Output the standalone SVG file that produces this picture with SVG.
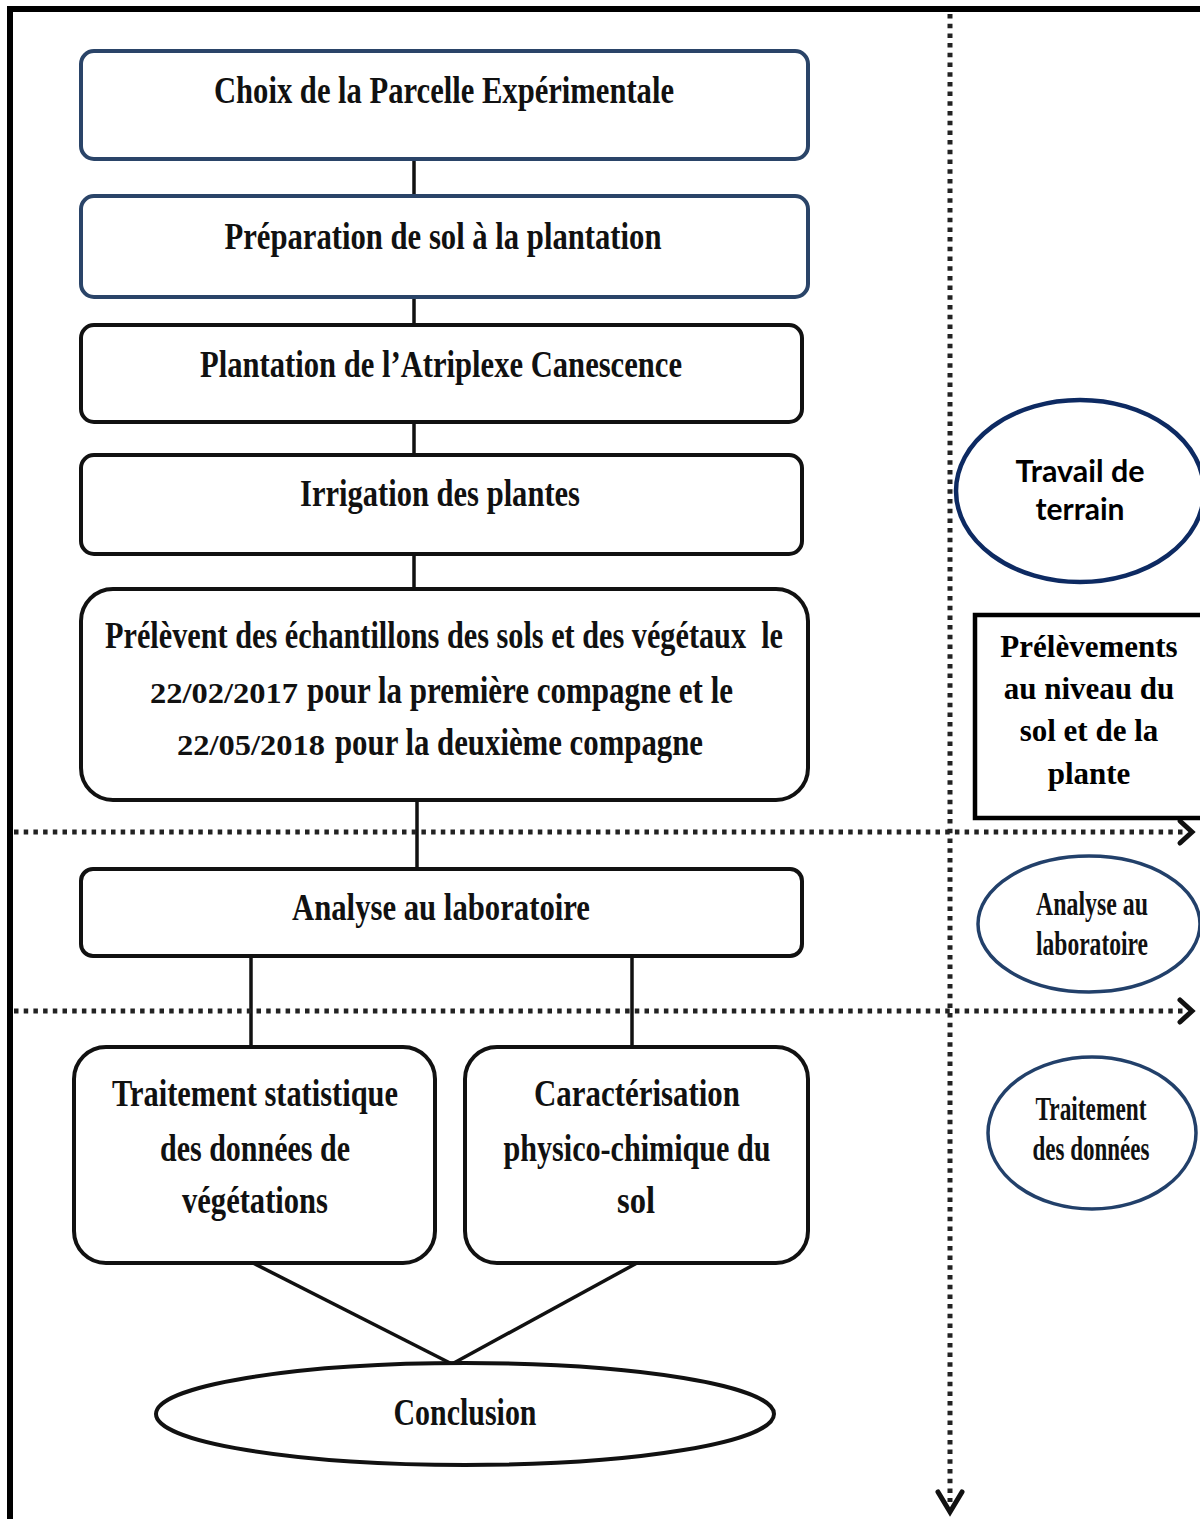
<svg xmlns="http://www.w3.org/2000/svg" width="1200" height="1519" viewBox="0 0 1200 1519">
<defs>
<style>
.t{font-family:"Liberation Serif","Times New Roman",serif;font-weight:bold;fill:#111;}
.c{font-size:37px;}
.d{font-size:30px;}
.box{fill:#fff;stroke:#111;stroke-width:4;}
.nbox{fill:#fff;stroke:#2a4468;stroke-width:4;}
.ell{fill:#fff;stroke:#22406a;stroke-width:3.5;}
.con{stroke:#111;stroke-width:3.5;fill:none;}
.dot{stroke:#222;stroke-width:5;fill:none;stroke-dasharray:4.5 5.2;}
.chev{stroke:#111;stroke-width:5;fill:none;stroke-linecap:round;stroke-linejoin:miter;}
.rt{font-family:"Liberation Serif","Times New Roman",serif;font-weight:bold;font-size:31px;fill:#000;}
.ct{font-family:Lato,"Open Sans",sans-serif;font-weight:bold;font-size:30px;fill:#000;}
</style>
</defs>
<rect width="1200" height="1519" fill="#fff"/>
<g id="frame">
<line x1="7" y1="9" x2="1200" y2="9" stroke="#000" stroke-width="6"/>
<line x1="10" y1="6" x2="10" y2="1519" stroke="#000" stroke-width="6"/>
</g>
<g id="connectors">
<line class="con" x1="414" y1="158" x2="414" y2="197"/>
<line class="con" x1="414" y1="297" x2="414" y2="326"/>
<line class="con" x1="414" y1="422" x2="414" y2="455"/>
<line class="con" x1="414" y1="554" x2="414" y2="589"/>
<line class="con" x1="417" y1="800" x2="417" y2="869"/>
<line class="con" x1="251" y1="956" x2="251" y2="1047"/>
<line class="con" x1="632" y1="956" x2="632" y2="1047"/>
<line class="con" x1="253" y1="1263" x2="452" y2="1364" stroke-width="5"/>
<line class="con" x1="637" y1="1263" x2="452" y2="1364" stroke-width="5"/>
<line class="dot" x1="14" y1="832" x2="1186" y2="832"/>
<polyline class="chev" points="1180,821 1192,832 1180,843"/>
<line class="dot" x1="14" y1="1011" x2="1186" y2="1011"/>
<polyline class="chev" points="1180,1000 1192,1011 1180,1022"/>
<line class="dot" x1="950" y1="14" x2="950" y2="1502" stroke-dasharray="5 5.6"/>
<polyline class="chev" points="938,1492 950,1512 962,1492"/>
</g>
<g id="n1">
<rect class="nbox" x="81" y="51" width="727" height="108" rx="13"/>
<text class="t c" x="444" y="103" text-anchor="middle" textLength="460" lengthAdjust="spacingAndGlyphs">Choix de la Parcelle Expérimentale</text>
</g>
<g id="n2">
<rect class="nbox" x="81" y="196" width="727" height="101" rx="13"/>
<text class="t c" x="443" y="249" text-anchor="middle" textLength="437" lengthAdjust="spacingAndGlyphs">Préparation de sol à la plantation</text>
</g>
<g id="n3">
<rect class="box" x="81" y="325" width="721" height="97" rx="13"/>
<text class="t c" x="441" y="377" text-anchor="middle" textLength="482" lengthAdjust="spacingAndGlyphs">Plantation de l’Atriplexe Canescence</text>
</g>
<g id="n4">
<rect class="box" x="81" y="455" width="721" height="99" rx="13"/>
<text class="t c" x="440" y="506" text-anchor="middle" textLength="280" lengthAdjust="spacingAndGlyphs">Irrigation des plantes</text>
</g>
<g id="n5">
<rect class="box" x="81" y="589" width="727" height="211" rx="32"/>
<text class="t c" x="105" y="648" xml:space="preserve" style="white-space:pre" textLength="678" lengthAdjust="spacingAndGlyphs">Prélèvent des échantillons des sols et des végétaux  le</text>
<text class="t" y="703"><tspan class="d" x="150" textLength="148" lengthAdjust="spacingAndGlyphs">22/02/2017</tspan><tspan class="c" x="307" textLength="426" lengthAdjust="spacingAndGlyphs">pour la première compagne et le</tspan></text>
<text class="t" y="755"><tspan class="d" x="177" textLength="148" lengthAdjust="spacingAndGlyphs">22/05/2018</tspan><tspan class="c" x="335" textLength="368" lengthAdjust="spacingAndGlyphs">pour la deuxième compagne</tspan></text>
</g>
<g id="n6">
<rect class="box" x="81" y="869" width="721" height="87" rx="12"/>
<text class="t c" x="441" y="920" text-anchor="middle" textLength="298" lengthAdjust="spacingAndGlyphs">Analyse au laboratoire</text>
</g>
<g id="n7">
<rect class="box" x="74" y="1047" width="361" height="216" rx="32"/>
<text class="t c" x="255" y="1106" text-anchor="middle" textLength="286" lengthAdjust="spacingAndGlyphs">Traitement statistique</text>
<text class="t c" x="255" y="1161" text-anchor="middle" textLength="190" lengthAdjust="spacingAndGlyphs">des données de</text>
<text class="t c" x="255" y="1213" text-anchor="middle" textLength="146" lengthAdjust="spacingAndGlyphs">végétations</text>
</g>
<g id="n8">
<rect class="box" x="465" y="1047" width="343" height="216" rx="32"/>
<text class="t c" x="637" y="1106" text-anchor="middle" textLength="206" lengthAdjust="spacingAndGlyphs">Caractérisation</text>
<text class="t c" x="637" y="1161" text-anchor="middle" textLength="267" lengthAdjust="spacingAndGlyphs">physico-chimique du</text>
<text class="t c" x="636" y="1213" text-anchor="middle" textLength="38" lengthAdjust="spacingAndGlyphs">sol</text>
</g>
<g id="n9">
<ellipse cx="465" cy="1414" rx="309" ry="51" fill="#fff" stroke="#111" stroke-width="4"/>
<text class="t c" x="465" y="1425" text-anchor="middle" textLength="143" lengthAdjust="spacingAndGlyphs">Conclusion</text>
</g>
<g id="r1">
<ellipse cx="1080" cy="491" rx="124" ry="91" fill="#fff" stroke="#0d2a62" stroke-width="4.5"/>
<text class="ct" x="1080" y="482" text-anchor="middle" textLength="129" lengthAdjust="spacingAndGlyphs">Travail de</text>
<text class="ct" x="1080" y="520" text-anchor="middle" textLength="89" lengthAdjust="spacingAndGlyphs">terrain</text>
</g>
<g id="r2">
<rect x="975" y="615" width="240" height="203" fill="#fff" stroke="#000" stroke-width="4.5"/>
<text class="rt" x="1089" y="657" text-anchor="middle">Prélèvements</text>
<text class="rt" x="1089" y="699" text-anchor="middle">au niveau du</text>
<text class="rt" x="1089" y="741" text-anchor="middle">sol et de la</text>
<text class="rt" x="1089" y="784" text-anchor="middle">plante</text>
</g>
<g id="r3">
<ellipse class="ell" cx="1089" cy="924" rx="111" ry="68"/>
<text class="t" x="1092" y="915" text-anchor="middle" font-size="33" textLength="112" lengthAdjust="spacingAndGlyphs">Analyse au</text>
<text class="t" x="1092" y="955" text-anchor="middle" font-size="33" textLength="112" lengthAdjust="spacingAndGlyphs">laboratoire</text>
</g>
<g id="r4">
<ellipse class="ell" cx="1092" cy="1133" rx="104" ry="76"/>
<text class="t" x="1091" y="1120" text-anchor="middle" font-size="33" textLength="111" lengthAdjust="spacingAndGlyphs">Traitement</text>
<text class="t" x="1091" y="1160" text-anchor="middle" font-size="33" textLength="117" lengthAdjust="spacingAndGlyphs">des données</text>
</g>
</svg>
